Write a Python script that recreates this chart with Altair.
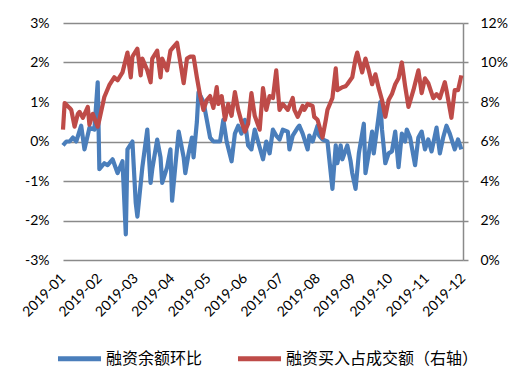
import json
import altair as alt
import pandas as pd

# Series names
blue_name = "融资余额环比"
red_name = "融资买入占成交额（右轴）"

# x-axis tick labels (one every 22 trading days)
month_labels = ["2019-01", "2019-02", "2019-03", "2019-04", "2019-05", "2019-06",
                "2019-07", "2019-08", "2019-09", "2019-10", "2019-11", "2019-12"]
label_step = 22

# 融资余额环比 (%), by trading-day index
blue_day = [0, 2, 4, 6, 8, 11, 13, 16, 19, 21, 22, 25, 27, 30, 33, 36, 38, 39, 42, 44,
            45, 48, 51, 53, 54, 57, 59, 60, 63, 65, 66, 68, 70, 73, 74, 76, 78, 79, 81, 82,
            85, 87, 89, 91, 95, 97, 99, 102, 104, 106, 108, 110, 112, 114, 116, 118, 121, 123, 125, 127,
            129, 131, 133, 136, 137, 139, 142, 143, 145, 148, 149, 151, 154, 155, 157, 160, 163, 165, 166, 168,
            169, 172, 174, 175, 177, 179, 182, 183, 185, 187, 188, 191, 192, 193, 195, 197, 199, 201, 203, 205,
            207, 208, 210, 213, 215, 217, 219, 221, 223, 226, 228, 230, 232, 234, 237, 239, 241]
blue_val = [-0.1, 0.0, 0.0, 0.1, 0.0, 0.4, -0.2, 0.35, 0.3, 1.5, -0.7, -0.55, -0.6, -0.45, -0.8, -0.5, -2.35, -0.2, 0.0, -1.55,
            -1.9, -0.65, 0.3, -1.05, -0.7, 0.05, -0.4, -1.05, -0.65, -0.2, -1.5, -0.6, 0.25, -0.4, -0.8, -0.3, 0.1, -0.4, 0.5, 1.25,
            1.0, 0.55, 0.1, 0.0, 0.0, 0.55, 0.0, -0.5, 0.2, 0.4, 0.2, 0.55, -0.1, -0.2, 0.3, 0.0, -0.45, 0.0, -0.3, 0.3,
            0.15, 0.05, 0.3, 0.25, -0.2, 0.15, 0.35, 0.4, 0.2, -0.2, 0.15, 0.0, 0.4, 0.15, 0.05, 0.0, -1.2, -0.1, -0.55, -0.1,
            -0.45, -0.1, -0.5, -0.8, -1.2, -0.3, 0.45, -0.8, -0.3, 0.25, -0.3, 0.65, 1.0, 0.3, -0.55, -0.3, -0.25, 0.25, -0.65, 0.2,
            0.0, 0.3, 0.1, -0.6, 0.1, 0.25, -0.2, 0.05, -0.25, 0.35, -0.3, 0.1, 0.4, 0.2, -0.2, 0.05, -0.2]

# 融资买入占成交额 (%), by trading-day index
red_day = [0, 1, 4, 5, 7, 9, 10, 12, 15, 16, 18, 21, 22, 25, 28, 31, 33, 36, 39, 41,
           42, 45, 47, 48, 51, 53, 54, 57, 59, 60, 63, 65, 67, 69, 71, 73, 75, 77, 79, 81,
           83, 85, 87, 89, 91, 93, 94, 96, 98, 100, 102, 104, 106, 108, 110, 112, 114, 116, 119, 121,
           123, 125, 127, 129, 131, 133, 136, 139, 140, 142, 145, 146, 148, 151, 152, 154, 157, 159, 160, 163,
           165, 166, 169, 171, 172, 175, 177, 178, 181, 183, 185, 187, 189, 191, 193, 195, 197, 199, 201, 203,
           205, 207, 209, 212, 215, 217, 219, 221, 224, 226, 228, 231, 232, 235, 237, 239, 241]
red_val = [6.6, 7.95, 7.7, 7.6, 6.75, 7.4, 7.5, 7.2, 7.75, 6.85, 7.4, 6.75, 7.1, 8.25, 8.85, 9.25, 9.1, 9.5, 10.5, 9.25,
           10.3, 10.7, 9.35, 10.2, 9.6, 9.0, 10.2, 10.6, 9.25, 10.2, 9.6, 10.6, 10.8, 11.0, 10.0, 8.95, 10.2, 10.3, 10.3, 9.25,
           8.3, 7.6, 8.1, 8.3, 7.7, 8.75, 7.9, 8.3, 7.1, 7.9, 7.3, 8.5, 7.6, 7.0, 6.5, 6.9, 8.45, 7.3, 6.6, 8.7,
           7.6, 8.3, 8.2, 9.6, 7.6, 7.9, 7.6, 8.2, 7.6, 7.25, 7.8, 7.6, 7.9, 7.8, 7.25, 7.1, 6.2, 7.1, 7.6, 8.2,
           9.7, 8.6, 8.75, 8.8, 8.9, 9.25, 10.2, 10.5, 9.5, 10.2, 9.6, 8.9, 9.4, 8.7, 8.1, 7.25, 8.1, 8.4, 8.9, 9.2,
           10.0, 8.8, 7.75, 8.6, 9.6, 8.45, 9.2, 8.95, 8.2, 8.4, 8.2, 9.0, 8.6, 7.2, 8.6, 8.6, 9.35]

left_ticks = [-3, -2, -1, 0, 1, 2, 3]
right_ticks = [0, 2, 4, 6, 8, 10, 12]

blue_df = pd.DataFrame({"day": blue_day, "value": blue_val, "series": blue_name})
red_df = pd.DataFrame({"day": red_day, "value": red_val, "series": red_name})

font = "Lato"
grey = "#8a8a8a"
last_day = label_step * (len(month_labels) - 1)

x_enc = alt.X(
    "day:Q",
    scale=alt.Scale(domain=[0, last_day], nice=False, zero=False),
    axis=alt.Axis(
        values=[i * label_step for i in range(len(month_labels))],
        labelExpr=f"{json.dumps(month_labels)}[round(datum.value / {label_step})]",
        labelAngle=-45, labelAlign="right", labelBaseline="middle",
        labelPadding=16, domain=False, ticks=False, grid=False, title=None,
        labelFontSize=14, labelColor="#000000", labelFont=font,
        labelOverlap=False, labelBound=False,
    ),
)

color_enc = alt.Color(
    "series:N",
    scale=alt.Scale(domain=[blue_name, red_name], range=["#4a7ebb", "#be4b48"]),
    legend=alt.Legend(
        title=None, orient="none", direction="horizontal",
        legendX=-8, legendY=311,
        symbolType="stroke", symbolSize=1850, symbolStrokeWidth=5,
        labelFont="Noto Sans CJK SC", labelFontSize=16, labelColor="#000000",
        labelOffset=2, columnPadding=24, labelLimit=400,
    ),
)

blue = alt.Chart(blue_df).mark_line(strokeWidth=4.2, strokeJoin="round").encode(
    x=x_enc,
    y=alt.Y("value:Q",
            scale=alt.Scale(domain=[-3, 3], nice=False),
            axis=alt.Axis(orient="left", values=left_ticks, labelExpr="datum.value + '%'",
                          grid=True, gridColor=grey, gridWidth=1.5, domain=False, ticks=False,
                          labelPadding=14, title=None, labelFontSize=14, labelFont=font,
                          labelColor="#000000")),
    color=color_enc,
)

red = alt.Chart(red_df).mark_line(strokeWidth=4.2, strokeJoin="round").encode(
    x=x_enc,
    y=alt.Y("value:Q",
            scale=alt.Scale(domain=[0, 12], nice=False),
            axis=alt.Axis(orient="right", values=right_ticks, labelExpr="datum.value + '%'",
                          grid=False, domain=True, domainColor=grey, domainWidth=1.5,
                          ticks=True, tickColor=grey, tickWidth=1.5, tickSize=5,
                          labelPadding=12, title=None, labelFontSize=14, labelFont=font,
                          labelColor="#000000")),
    color=color_enc,
)

chart = alt.layer(blue, red).resolve_scale(y="independent").properties(
    width=400, height=237,
    autosize=alt.AutoSizeParams(type="none"),
    padding={"left": 55, "top": 15, "right": 51, "bottom": 118},
    background="#ffffff",
).configure_view(strokeWidth=0)

chart.save("out.html", embed_options={"renderer": "svg", "actions": False})
